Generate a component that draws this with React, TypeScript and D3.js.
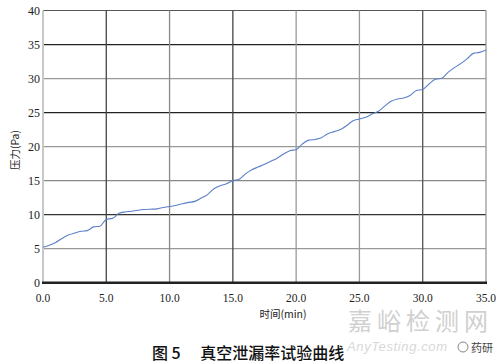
import React from "react";
import * as d3 from "d3";

const times = [0, 0.5, 1, 1.5, 2, 2.5, 3, 3.5, 4, 4.5, 5, 5.5, 6, 6.5, 7, 7.5, 8, 8.5, 9, 9.5, 10, 10.5, 11, 11.5, 12, 12.5, 13, 13.5, 14, 14.5, 15, 15.5, 16, 16.5, 17, 17.5, 18, 18.5, 19, 19.5, 20, 20.5, 21, 21.5, 22, 22.5, 23, 23.5, 24, 24.5, 25, 25.5, 26, 26.5, 27, 27.5, 28, 28.5, 29, 29.5, 30, 30.5, 31, 31.5, 32, 32.5, 33, 33.5, 34, 34.5, 35];
const pressure = [5.2, 5.5, 5.9, 6.5, 7.0, 7.3, 7.55, 7.65, 8.2, 8.3, 9.3, 9.45, 10.2, 10.4, 10.5, 10.65, 10.75, 10.8, 10.85, 11.05, 11.2, 11.35, 11.6, 11.8, 11.95, 12.45, 12.95, 13.8, 14.25, 14.55, 15.0, 15.2, 16.0, 16.6, 17.0, 17.4, 17.85, 18.3, 18.9, 19.4, 19.55, 20.4, 20.95, 21.05, 21.3, 21.9, 22.2, 22.5, 23.1, 23.8, 24.05, 24.3, 24.8, 25.2, 25.95, 26.65, 27.0, 27.15, 27.5, 28.25, 28.4, 29.2, 29.9, 30.05, 30.9, 31.6, 32.2, 32.9, 33.7, 33.85, 34.2];

const xTicks = [0, 5, 10, 15, 20, 25, 30, 35];
const yTicks = [0, 5, 10, 15, 20, 25, 30, 35, 40];
const xGridColors = ["#cfcfcf", "#444", "#888", "#444", "#999", "#999", "#555", "#999"];
const yGridColors = ["#222", "#999", "#333", "#888", "#999", "#222", "#999", "#222", "#555"];

const xLabel = "时间(min)";
const yLabel = "压力(Pa)";
const caption = "图 5　 真空泄漏率试验曲线";

export default function App() {
  const W = 500, H = 364;
  const x = d3.scaleLinear().domain([0, 35]).range([43, 486]);
  const y = d3.scaleLinear().domain([0, 40]).range([282.7, 10.5]);
  const data = times.map((t, i) => [t, pressure[i]] as [number, number]);
  const line = d3.line<[number, number]>().x(d => x(d[0])).y(d => y(d[1])).curve(d3.curveMonotoneX);
  const serif = "Liberation Serif, DejaVu Serif, serif";
  const cjk = "Noto Sans CJK SC, sans-serif";
  return (
    <svg width={W} height={H} style={{ position: "absolute", left: 0, top: 0, background: "#fff" }}>
      {yTicks.map((v, i) => v === 0 ? null : (
        <line key={"hy" + v} x1={x(0)} x2={x(35)} y1={y(v)} y2={y(v)} stroke={yGridColors[i]} strokeWidth={1.2} />
      ))}
      {xTicks.map((v, i) => i === 0 ? null : (
        <line key={"vx" + v} x1={x(v)} x2={x(v)} y1={y(40)} y2={y(0)} stroke={xGridColors[i]} strokeWidth={1.3} />
      ))}
      <line x1={x(0)} x2={x(0)} y1={y(40)} y2={y(0)} stroke="#c8c8c8" strokeWidth={2} />
      <line x1={x(0) - 1} x2={x(35) + 1} y1={y(0)} y2={y(0)} stroke="#222" strokeWidth={2.5} />
      <path d={line(data) || ""} fill="none" stroke="#5b7fc9" strokeWidth={1.1} />
      {yTicks.map(v => (
        <text key={"yt" + v} x={40} y={y(v) + 4} textAnchor="end" style={{ fontFamily: serif }} fontSize={12} fill="#222">{v}</text>
      ))}
      {xTicks.map(v => (
        <text key={"xt" + v} x={x(v)} y={301.5} textAnchor="middle" style={{ fontFamily: serif }} fontSize={11.5} fill="#222">{v.toFixed(1)}</text>
      ))}
      <text x={283} y={318} textAnchor="middle" style={{ fontFamily: cjk }} fontSize={10.5} fill="#222">{xLabel}</text>
      <text transform="translate(19,150) rotate(-90)" textAnchor="middle" style={{ fontFamily: cjk }} fontSize={10.5} fill="#222">{yLabel}</text>
      <text x={348} y={330} style={{ fontFamily: "Noto Sans CJK SC, sans-serif" }} fontSize={24} fill="#d0d0d0" textLength={140}>嘉峪检测网</text>
      <text x={347} y={351} style={{ fontFamily: "Liberation Sans, sans-serif" }} fontStyle="italic" fontSize={13} fill="#d8d8d8" textLength={100}>AnyTesting.com</text>
      <circle cx={463} cy={347} r={5} fill="none" stroke="#888" strokeWidth={1} />
      <text x={471} y={352} style={{ fontFamily: "Noto Sans CJK SC, sans-serif" }} fontSize={11} fill="#444">药研</text>
      <text x={152} y={359} style={{ fontFamily: "Noto Sans CJK SC, serif" }} fontSize={16} fill="#111" fontWeight={500}>{caption}</text>
    </svg>
  );
}
